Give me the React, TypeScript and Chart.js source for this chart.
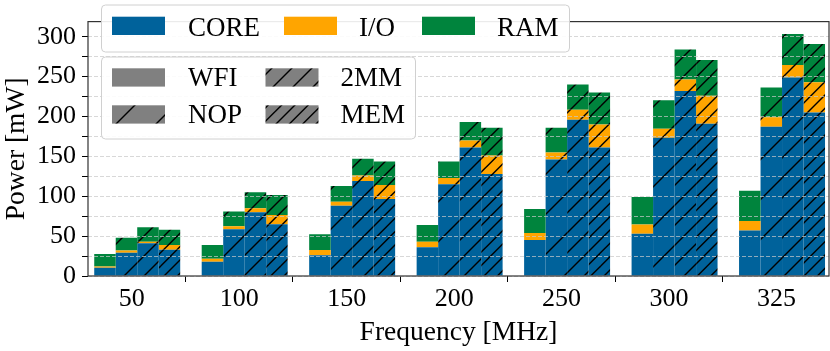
import React, { useEffect, useRef } from 'react';
import { Chart, registerables } from 'chart.js';

Chart.register(...registerables);

// ---------- data ----------
const frequencies = ['50', '100', '150', '200', '250', '300', '325'];
const workloads = ['WFI', 'NOP', '2MM', 'MEM'];
const components = ['CORE', 'I/O', 'RAM'];

const wfiCore = [10.5, 18, 26, 36, 45, 53, 57];
const wfiIo = [1.5, 3.5, 6.5, 7, 9, 11.5, 12];
const wfiRam = [15.5, 17.5, 20, 21, 30, 34.5, 38];

const nopCore = [29, 58.5, 88, 115, 146, 173.5, 187];
const nopIo = [3, 4, 5, 8, 9, 11, 12];
const nopRam = [16, 18.5, 20, 20.5, 31, 36, 37.5];

const mm2Core = [41, 80, 119, 161, 196, 232, 249];
const mm2Io = [2, 5, 7, 9, 12.5, 14.5, 15.5];
const mm2Ram = [18, 20, 21, 23, 31.5, 37.5, 39];

const memCore = [33, 65, 96.5, 128, 161, 191, 205];
const memIo = [6, 11.5, 17.5, 23, 29, 35, 38];
const memRam = [19, 25, 29.5, 35, 40, 45, 48];

const yTicks = [0, 25, 50, 75, 100, 125, 150, 175, 200, 225, 250, 275, 300];

// ---------- styles ----------
const componentColors = ['#00629b', '#ffa500', '#00843d'];
const hatchDensity = [0, 1, 2, 3]; // WFI, NOP, 2MM, MEM
const FAMILY = '"Liberation Serif", "Times New Roman", serif';
const FONT = { family: FAMILY, size: 26 };
const TITLE_FONT = { family: FAMILY, size: 27.5 };
const LEGEND_CSS = `27px ${FAMILY}`;

function makeFill(color: string, n: number): CanvasPattern | string {
  if (!n) return color;
  const T = 40;
  const c = document.createElement('canvas');
  c.width = T;
  c.height = T;
  const g = c.getContext('2d')!;
  g.fillStyle = color;
  g.fillRect(0, 0, T, T);
  g.strokeStyle = '#000';
  g.lineWidth = 1.4;
  for (let k = 0; k <= 2 * n; k++) {
    const cc = (k * T) / n;
    g.beginPath();
    g.moveTo(cc - T - 2, T + 2);
    g.lineTo(cc + 2, -2);
    g.stroke();
  }
  return g.createPattern(c, 'repeat')!;
}

function roundBox(ctx: CanvasRenderingContext2D, x: number, y: number, w: number, h: number, r: number) {
  ctx.beginPath();
  ctx.moveTo(x + r, y);
  ctx.lineTo(x + w - r, y);
  ctx.arcTo(x + w, y, x + w, y + r, r);
  ctx.lineTo(x + w, y + h - r);
  ctx.arcTo(x + w, y + h, x + w - r, y + h, r);
  ctx.lineTo(x + r, y + h);
  ctx.arcTo(x, y + h, x, y + h - r, r);
  ctx.lineTo(x, y + r);
  ctx.arcTo(x, y, x + r, y, r);
  ctx.closePath();
  ctx.fillStyle = 'rgba(255,255,255,0.9)';
  ctx.fill();
  ctx.strokeStyle = '#d0d0d0';
  ctx.lineWidth = 1;
  ctx.stroke();
}

const overlayPlugin = {
  id: 'overlay',
  afterDraw(chart: any) {
    const ctx: CanvasRenderingContext2D = chart.ctx;
    const a = chart.chartArea;
    ctx.save();
    // frame
    ctx.strokeStyle = '#333';
    ctx.lineWidth = 1.2;
    ctx.strokeRect(a.left, a.top, a.right - a.left, a.bottom - a.top);

    ctx.font = LEGEND_CSS;
    ctx.fillStyle = '#000';
    ctx.textBaseline = 'alphabetic';
    ctx.textAlign = 'left';

    // legend 1: components
    roundBox(ctx, 101.5, 5, 468, 47, 4);
    const compSwatchX = [112, 284, 422];
    const compTextX = [188, 359, 497];
    components.forEach((c, i) => {
      ctx.fillStyle = componentColors[i];
      ctx.fillRect(compSwatchX[i], 16.7, 53, 18.3);
      ctx.fillStyle = '#000';
      ctx.fillText(c, compTextX[i], 35.5);
    });

    // legend 2: workloads
    roundBox(ctx, 101.5, 57, 314, 82, 4);
    const wSwatchX = [112, 112, 265.5, 265.5];
    const wTextX = [188, 188, 340.5, 340.5];
    const wRowY = [68.3, 105.3, 68.3, 105.3];
    workloads.forEach((w, wi) => {
      ctx.fillStyle = makeFill('#808080', hatchDensity[wi]) as any;
      ctx.fillRect(wSwatchX[wi], wRowY[wi], 53, 18.3);
      ctx.fillStyle = '#000';
      ctx.fillText(w, wTextX[wi], wRowY[wi] + 18);
    });
    ctx.restore();
  },
};

export default function App() {
  const ref = useRef<HTMLCanvasElement | null>(null);

  useEffect(() => {
    document.body.style.margin = '0';
    const series: Record<string, number[][]> = {
      WFI: [wfiCore, wfiIo, wfiRam],
      NOP: [nopCore, nopIo, nopRam],
      '2MM': [mm2Core, mm2Io, mm2Ram],
      MEM: [memCore, memIo, memRam],
    };
    const datasets = workloads.flatMap((w, wi) =>
      components.map((c, ci) => ({
        label: `${w} ${c}`,
        stack: w,
        data: series[w][ci].map((v, i) => ({ x: i, y: v })),
        backgroundColor: makeFill(componentColors[ci], hatchDensity[wi]),
        borderWidth: 0,
        categoryPercentage: 0.8,
        barPercentage: 1,
      }))
    );

    const chart = new Chart(ref.current!, {
      type: 'bar',
      data: { datasets } as any,
      options: {
        animation: false,
        responsive: false,
        maintainAspectRatio: false,
        devicePixelRatio: 1,
        layout: { padding: { left: 0, right: 1, top: 1, bottom: 0 } },
        plugins: { legend: { display: false }, tooltip: { enabled: false } },
        scales: {
          x: {
            type: 'linear',
            min: -0.458,
            max: 6.437,
            offset: false,
            grid: { drawOnChartArea: false, drawTicks: true, tickLength: 6, tickColor: '#000', tickWidth: 1 },
            border: { display: false },
            afterBuildTicks: (s: any) => {
              s.ticks = frequencies.map((_, i) => ({ value: i - 0.051 }));
            },
            ticks: {
              callback: (_v: any, i: number) => frequencies[i],
              font: FONT,
              color: '#000',
              padding: 2,
              maxRotation: 0,
              autoSkip: false,
            },
            title: { display: true, text: 'Frequency [MHz]', font: TITLE_FONT, color: '#000', padding: { top: 0, bottom: 2 } },
            afterFit: (s: any) => {
              s.height = 75;
            },
          },
          y: {
            stacked: true,
            min: 0,
            max: 319,
            afterBuildTicks: (s: any) => {
              s.ticks = yTicks.map((v) => ({ value: v }));
            },
            ticks: {
              callback: (v: any) => (Number(v) % 50 === 0 ? String(v) : ''),
              font: FONT,
              color: '#000',
              padding: 6,
              autoSkip: false,
            },
            grid: {
              color: 'rgba(200,200,200,0.9)',
              lineWidth: 0.8,
              drawTicks: true,
              tickLength: 6,
              tickColor: '#000',
              tickWidth: 1,
              tickBorderDash: [],
              z: 1,
            },
            border: { display: false, dash: [4, 2] },
            title: { display: true, text: 'Power [mW]', font: TITLE_FONT, color: '#000', padding: { top: 0, bottom: 0 } },
            afterFit: (s: any) => {
              s.width = 88;
            },
          },
        } as any,
      },
      plugins: [overlayPlugin],
    });
    return () => chart.destroy();
  }, []);

  return (
    <div style={{ width: 830, height: 351 }}>
      <canvas ref={ref} width={830} height={351} style={{ display: 'block' }} />
    </div>
  );
}
